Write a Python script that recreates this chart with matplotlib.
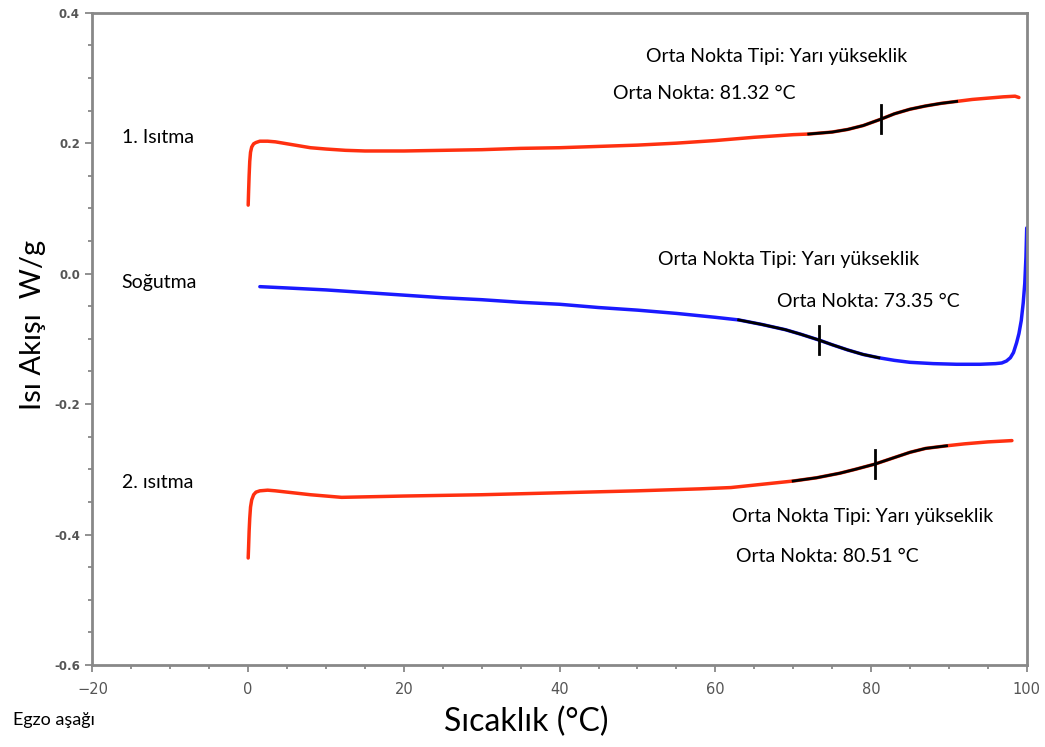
import matplotlib
matplotlib.use('Agg')
from matplotlib import pyplot as plt
from matplotlib import font_manager
from matplotlib.ticker import MultipleLocator
import numpy as np

# curve data (temperature in degC, heat flow in W/g)
heat1_x = [0.0, 0.05, 0.12, 0.2, 0.3, 0.45, 0.7, 1.0, 1.5, 2.5, 3.5, 5.0,
           6.5, 8.0, 10.0, 12.5, 15.0, 20.0, 25.0, 30.0, 35.0, 40.0, 45.0,
           50.0, 55.0, 60.0, 65.0, 70.0, 72.0, 75.0, 77.0, 79.0, 81.32, 83.0,
           85.0, 87.0, 89.0, 91.0, 93.0, 95.0, 97.0, 98.5, 99.0]
heat1_y = [0.105, 0.125, 0.150, 0.172, 0.186, 0.194, 0.199, 0.201, 0.203,
           0.203, 0.202, 0.199, 0.196, 0.193, 0.191, 0.189, 0.188, 0.188,
           0.189, 0.190, 0.192, 0.193, 0.195, 0.197, 0.200, 0.204, 0.209,
           0.213, 0.214, 0.217, 0.221, 0.227, 0.237, 0.245, 0.252, 0.257,
           0.261, 0.264, 0.267, 0.269, 0.271, 0.272, 0.270]

cool_x = [1.5, 5.0, 10.0, 15.0, 20.0, 25.0, 30.0, 35.0, 40.0, 45.0, 50.0,
          55.0, 60.0, 63.0, 66.0, 69.0, 71.0, 73.35, 75.0, 77.0, 79.0, 81.0,
          83.0, 85.0, 88.0, 91.0, 94.0, 95.0, 96.0, 96.8, 97.4, 97.9, 98.3,
          98.7, 99.0, 99.3, 99.55, 99.75, 99.9, 100.0]
cool_y = [-0.020, -0.022, -0.025, -0.029, -0.033, -0.037, -0.040, -0.044,
          -0.047, -0.052, -0.056, -0.061, -0.067, -0.071, -0.078, -0.086,
          -0.093, -0.102, -0.109, -0.117, -0.124, -0.129, -0.133, -0.136,
          -0.138, -0.139, -0.139, -0.1385, -0.138, -0.137, -0.134, -0.129,
          -0.121, -0.106, -0.092, -0.072, -0.045, -0.015, 0.025, 0.070]

heat2_x = [0.0, 0.05, 0.12, 0.2, 0.3, 0.45, 0.7, 1.0, 1.5, 2.5, 3.5, 5.0,
           6.5, 8.0, 10.0, 12.0, 16.0, 20.0, 30.0, 40.0, 50.0, 58.0, 62.0,
           66.0, 70.0, 73.0, 76.0, 78.0, 80.51, 83.0, 85.0, 87.0, 89.7, 92.0,
           95.0, 98.1]
heat2_y = [-0.436, -0.420, -0.395, -0.375, -0.358, -0.347, -0.339, -0.335,
           -0.333, -0.332, -0.333, -0.335, -0.337, -0.339, -0.341, -0.343,
           -0.342, -0.341, -0.339, -0.336, -0.333, -0.330, -0.328, -0.323,
           -0.318, -0.313, -0.306, -0.300, -0.292, -0.282, -0.274, -0.268,
           -0.264, -0.261, -0.258, -0.256]

# glass transition analysis: fitted range and midpoint
heat1_range = (71.5, 91.0)
cool_range = (60.6, 82.8)
heat2_range = (66.1, 89.7)
heat1_mid = 81.32
cool_mid = 73.35
heat2_mid = 80.51

RED = '#ff3010'
BLUE = '#1a1aff'
GREY = '#888888'
FONT = 'Lato'

installed = {f.name for f in font_manager.fontManager.ttflist}
TICK_FONT = 'Liberation Sans Narrow' if 'Liberation Sans Narrow' in installed \
    else 'DejaVu Sans'

fig = plt.figure(figsize=(10.45, 7.47), dpi=100)
ax = fig.add_axes([0.0885, 0.1098, 0.894, 0.8732])


def draw_curve(xs, ys, color, fit_range, mid):
    xs = np.array(xs)
    ys = np.array(ys)
    ax.plot(xs, ys, color=color, lw=2.5, solid_capstyle='round',
            solid_joinstyle='round', zorder=2)
    mask = (xs >= fit_range[0]) & (xs <= fit_range[1])
    ax.plot(xs[mask], ys[mask], color='black', lw=2.0,
            solid_joinstyle='round', zorder=3)
    y_mid = ys[np.argmin(np.abs(xs - mid))]
    ax.plot([mid, mid], [y_mid - 0.021, y_mid + 0.021], color='black',
            lw=2.0, zorder=4)


draw_curve(heat1_x, heat1_y, RED, heat1_range, heat1_mid)
draw_curve(cool_x, cool_y, BLUE, cool_range, cool_mid)
draw_curve(heat2_x, heat2_y, RED, heat2_range, heat2_mid)

ax.set_xlim(-20, 100)
ax.set_ylim(-0.6, 0.4)
ax.xaxis.set_major_locator(MultipleLocator(20))
ax.xaxis.set_minor_locator(MultipleLocator(5))
ax.yaxis.set_major_locator(MultipleLocator(0.2))
ax.yaxis.set_minor_locator(MultipleLocator(0.05))
ax.yaxis.set_major_formatter(plt.FuncFormatter(lambda v, p: f'{v:.1f}'))

for side in ['left', 'right', 'top', 'bottom']:
    ax.spines[side].set_color(GREY)
    ax.spines[side].set_linewidth(2)

ax.tick_params(which='both', direction='out', color=GREY, width=1.3)
ax.tick_params(which='major', length=5)
ax.tick_params(which='minor', length=3)
ax.tick_params(axis='x', pad=7, labelsize=10.5, labelcolor='#555555')
ax.tick_params(axis='y', pad=4, labelsize=8.5, labelcolor='#555555')
for lbl in ax.get_xticklabels():
    lbl.set_family(TICK_FONT)
for lbl in ax.get_yticklabels():
    lbl.set_fontweight('bold')

txt = dict(fontsize=14, family=FONT, color='black', va='center')
ax.text(51.06, 0.3336, 'Orta Nokta Tipi: Yarı yükseklik', **txt)
ax.text(46.9, 0.2764, 'Orta Nokta: 81.32 °C', **txt)
ax.text(52.68, 0.0209, 'Orta Nokta Tipi: Yarı yükseklik', **txt)
ax.text(67.89, -0.0431, 'Orta Nokta: 73.35 °C', **txt)
ax.text(62.1, -0.3727, 'Orta Nokta Tipi: Yarı yükseklik', **txt)
ax.text(62.66, -0.434, 'Orta Nokta: 80.51 °C', **txt)
ax.text(-16.25, 0.2094, '1. Isıtma', **txt)
ax.text(-16.25, -0.0138, 'Soğutma', **txt)
ax.text(-16.25, -0.321, '2. ısıtma', **txt)

fig.text(0.032, 0.565, 'Isı Akışı  W/g', rotation=90, fontsize=21,
         family=FONT, ha='center', va='center')
fig.text(0.504, 0.034, 'Sıcaklık (°C)', fontsize=23, family=FONT,
         ha='center', va='center')
fig.text(0.012, 0.036, 'Egzo aşağı', fontsize=13, family=FONT,
         ha='left', va='center')

fig.savefig('out.png', dpi=100)
